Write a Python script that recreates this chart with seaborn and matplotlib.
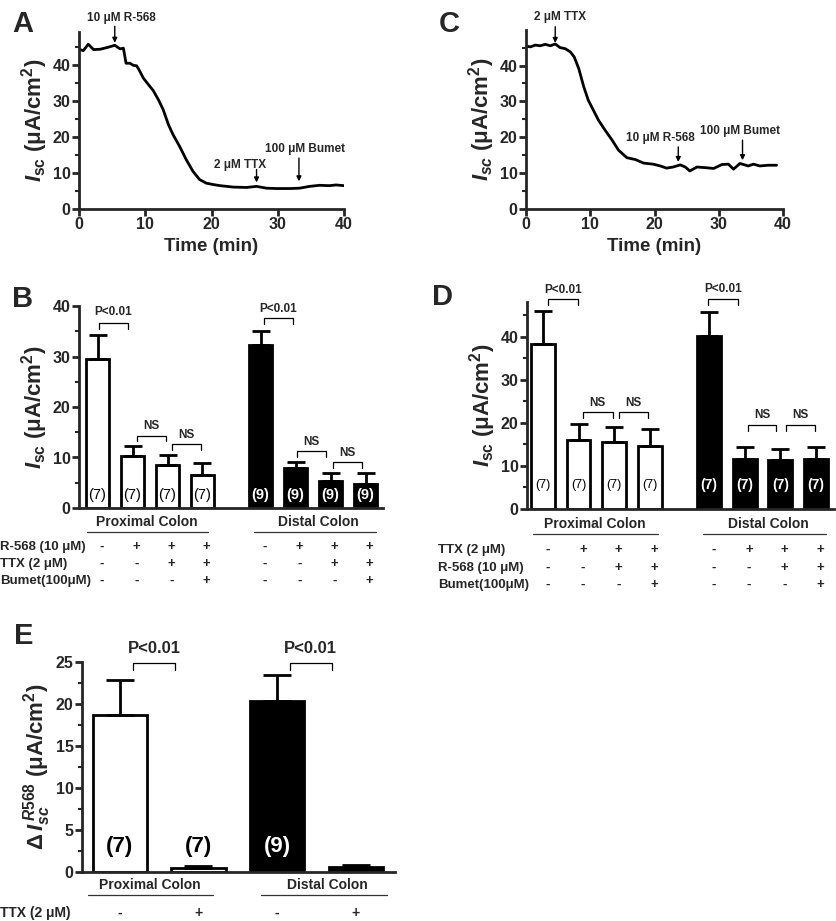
import numpy as np
import pandas as pd
import matplotlib
matplotlib.use("Agg")
import matplotlib.pyplot as plt
import matplotlib.transforms as mtransforms
from matplotlib.ticker import MultipleLocator
import seaborn as sns

sns.set_style("ticks")
plt.rcParams["font.family"] = ["Liberation Sans", "DejaVu Sans"]
plt.rcParams["font.weight"] = "bold"
plt.rcParams["axes.labelweight"] = "bold"
plt.rcParams["mathtext.fontset"] = "custom"
plt.rcParams["mathtext.rm"] = "Liberation Sans:bold"
plt.rcParams["mathtext.it"] = "Liberation Sans:italic:bold"
plt.rcParams["mathtext.bf"] = "Liberation Sans:bold"

# ---- data ----
# A: R-568 first, then TTX, then bumetanide
trace_a_time = [0, 0.65, 1.4, 2.2, 3.2, 4.3, 5.4, 6.2, 6.7, 7.1, 7.7, 8.2, 8.7, 9.2, 9.7,
                10.5, 11.2, 12.0, 12.7, 13.5, 14.2, 15.2, 16.2, 17.2, 18.2, 19.2, 20.3,
                21.3, 23.3, 25.3, 26.8, 28.3, 29.8, 31.8, 33.3, 34.8, 36.3, 37.8, 38.8, 40]
trace_a_isc = [44.5, 44.1, 45.9, 44.4, 44.5, 45.0, 45.6, 44.6, 44.8, 40.6, 40.6, 40.0, 39.9,
               38.3, 36.5, 34.6, 33.0, 30.4, 27.7, 23.5, 20.7, 17.4, 13.7, 10.5, 8.2, 7.2,
               6.8, 6.5, 6.1, 6.0, 6.3, 5.8, 5.7, 5.7, 5.8, 6.3, 6.6, 6.5, 6.7, 6.5]

# C: TTX first, then R-568, then bumetanide
trace_c_time = [0, 0.7, 1.45, 2.2, 3.0, 3.8, 4.55, 5.3, 6.1, 6.9, 7.5, 8.2, 9.0, 9.7, 10.5,
                11.3, 12.3, 13.4, 14.4, 15.7, 17.0, 18.3, 19.8, 20.9, 21.9, 22.9, 24.0,
                24.8, 25.5, 26.6, 28.1, 29.2, 30.5, 31.5, 32.3, 33.3, 34.6, 35.4, 36.4,
                37.7, 39.0]
trace_c_isc = [45.4, 45.2, 45.7, 45.5, 45.9, 45.5, 46.0, 45.0, 44.7, 43.8, 42.4, 39.2, 34.0,
               30.3, 27.5, 24.7, 22.0, 19.2, 16.4, 14.3, 13.8, 12.8, 12.5, 12.0, 11.4, 11.7,
               12.3, 11.7, 10.6, 11.7, 11.5, 11.3, 12.4, 12.5, 11.1, 12.7, 12.0, 12.5, 12.0,
               12.2, 12.2]

colon = ["Proximal"] * 4 + ["Distal"] * 4

b_mean = [29.5, 10.3, 8.6, 6.5, 32.2, 8.0, 5.4, 4.7]
b_err = [4.8, 2.0, 1.8, 2.4, 2.9, 1.2, 1.5, 2.3]
b_n = ["(7)"] * 4 + ["(9)"] * 4
b_rows = ["R-568 (10 μM)", "TTX (2 μM)", "Bumet(100μM)"]
b_signs = [["-", "+", "+", "+", "-", "+", "+", "+"],
           ["-", "-", "+", "+", "-", "-", "+", "+"],
           ["-", "-", "-", "+", "-", "-", "-", "+"]]

d_mean = [38.4, 16.0, 15.6, 14.7, 40.3, 11.7, 11.4, 11.6]
d_err = [7.5, 3.7, 3.5, 3.8, 5.4, 2.7, 2.6, 2.8]
d_n = ["(7)"] * 8
d_rows = ["TTX (2 μM)", "R-568 (10 μM)", "Bumet(100μM)"]
d_signs = [["-", "+", "+", "+", "-", "+", "+", "+"],
           ["-", "-", "+", "+", "-", "-", "+", "+"],
           ["-", "-", "-", "+", "-", "-", "-", "+"]]

e_mean = [18.7, 0.5, 20.4, 0.55]
e_err = [4.2, 0.2, 3.0, 0.25]
e_colon = ["Proximal", "Proximal", "Distal", "Distal"]
e_n = ["(7)", "(7)", "(9)", "(7)"]
e_rows = ["TTX (2 μM)"]
e_signs = [["-", "+", "-", "+"]]

W, H = 836, 921
fig = plt.figure(figsize=(W / 100, H / 100), dpi=100)


def px_axes(l, t, r, b):
    return fig.add_axes([l / W, 1 - b / H, (r - l) / W, (b - t) / H])


def fy(y):
    return 1 - y / H


def style(ax, ymax, major, minor):
    sns.despine(ax=ax)
    for s in ["left", "bottom"]:
        ax.spines[s].set_linewidth(2)
    ax.set_ylim(0, ymax)
    ax.yaxis.set_major_locator(MultipleLocator(major))
    if minor:
        ax.yaxis.set_minor_locator(MultipleLocator(minor))
    ax.tick_params(axis="both", which="major", width=2, length=5, labelsize=11.5, pad=1)
    ax.tick_params(axis="both", which="minor", width=1.5, length=3)


def trace_panel(ax, t, y, ymax):
    sns.lineplot(x=t, y=y, color="black", lw=2, ax=ax)
    style(ax, ymax, 10, 5)
    ax.set_xlim(0, 40)
    ax.xaxis.set_major_locator(MultipleLocator(10))
    ax.set_xlabel("Time (min)", fontsize=13.5, labelpad=4)


def arrow(ax, x, y0, y1):
    ax.annotate("", xy=(x, y1), xytext=(x, y0), annotation_clip=False,
                arrowprops=dict(arrowstyle="-|>", color="black", lw=1, mutation_scale=7,
                                shrinkA=0, shrinkB=0))


def bar_panel(ax, pos, mean, err, groups, width, capsize):
    df = pd.DataFrame({"pos": pos, "val": mean, "colon": groups})
    sns.barplot(data=df, x="pos", y="val", hue="colon", native_scale=True,
                palette={"Proximal": "white", "Distal": "black"}, width=width,
                edgecolor="black", linewidth=2, dodge=False, errorbar=None,
                legend=False, ax=ax)
    ax.errorbar(pos, mean, yerr=[np.zeros(len(mean)), err], fmt="none", ecolor="black",
                elinewidth=2, capsize=capsize, capthick=2, zorder=1)
    ax.tick_params(axis="x", which="both", bottom=False, labelbottom=False)
    ax.set_xlabel("")


def n_labels(ax, pos, labels, groups, y, fs, fs_white, weight="normal"):
    for p, lab, g in zip(pos, labels, groups):
        if g == "Distal":
            ax.text(p, y, lab, ha="center", va="center", color="white",
                    fontsize=fs_white, fontweight="bold")
        else:
            ax.text(p, y, lab, ha="center", va="center", color="black",
                    fontsize=fs, fontweight=weight)


def bracket(ax, x0, x1, y, h, text, ty, fs, lw=0.9):
    ax.plot([x0, x0, x1, x1], [y - h, y, y, y - h], color="black", lw=lw, clip_on=False)
    ax.text((x0 + x1) / 2, ty, text, ha="center", va="center", fontsize=fs, clip_on=False)


def groups_below(ax, spans, text_y, line_y, fs):
    trans = mtransforms.blended_transform_factory(ax.transData, fig.transFigure)
    for name, x0, x1, xc in spans:
        ax.text(xc, fy(text_y), name, transform=trans, ha="center", va="center", fontsize=fs)
        ax.plot([x0, x1], [fy(line_y)] * 2, transform=trans, clip_on=False,
                color="#333333", lw=0.9)


def cond_rows(ax, labels, signs, pos, label_x, row_y, dx, fs):
    trans = mtransforms.blended_transform_factory(ax.transData, fig.transFigure)
    for lab, sg, y in zip(labels, signs, row_y):
        fig.text(label_x / W, fy(y), lab, ha="left", va="center", fontsize=fs)
        for p, s in zip(pos, sg):
            ax.text(p + dx, fy(y), s, transform=trans, ha="center", va="center", fontsize=fs)


ylab = r"$I_{\mathrm{sc}}$ (μA/cm$^{2}$)"
ylab_it = r"$I_{sc}$ (μA/cm$^{2}$)"
YL = 16

# ---- A ----
axA = px_axes(79, 32, 344, 209)
trace_panel(axA, trace_a_time, trace_a_isc, 49.3)
axA.set_ylabel(ylab, fontsize=YL, labelpad=2)
axA.text(6.4, 53.2, "10 μM R-568", ha="center", va="center", fontsize=8.5, clip_on=False)
arrow(axA, 5.4, 50.9, 46.3)
axA.text(24.3, 12.3, "2 μM TTX", ha="center", va="center", fontsize=8.5)
arrow(axA, 26.8, 11.0, 7.4)
axA.text(34.1, 16.8, "100 μM Bumet", ha="center", va="center", fontsize=8.5)
arrow(axA, 33.2, 14.2, 7.7)

# ---- C ----
axC = px_axes(526, 30, 783, 209)
trace_panel(axC, trace_c_time, trace_c_isc, 49.9)
axC.set_ylabel(ylab_it, fontsize=YL, labelpad=2)
axC.text(5.3, 53.6, "2 μM TTX", ha="center", va="center", fontsize=8.5, clip_on=False)
arrow(axC, 4.55, 50.8, 46.3)
axC.text(20.9, 19.8, "10 μM R-568", ha="center", va="center", fontsize=8.5)
arrow(axC, 23.7, 17.3, 13.1)
axC.text(33.3, 21.7, "100 μM Bumet", ha="center", va="center", fontsize=8.5)
arrow(axC, 33.7, 19.2, 13.6)

# ---- B ----
pos8 = [0, 1, 2, 3, 4.66, 5.66, 6.66, 7.66]
axB = px_axes(79, 306, 383, 508)
bar_panel(axB, pos8, b_mean, b_err, colon, 0.66, 6.5)
style(axB, 40, 10, 5)
axB.set_xlim(-0.53, 8.16)
axB.set_ylabel(ylab, fontsize=YL, labelpad=2)
n_labels(axB, pos8, b_n, colon, 2.6, 10.5, 10.5)
bracket(axB, 0.04, 0.87, 36.6, 1.1, "P<0.01", 38.9, 8.5)
bracket(axB, 1.12, 1.95, 14.3, 1.1, "NS", 16.2, 8.5)
bracket(axB, 2.12, 2.95, 12.6, 1.1, "NS", 14.5, 8.5)
bracket(axB, 4.76, 5.59, 37.6, 1.1, "P<0.01", 39.4, 8.5)
bracket(axB, 5.70, 6.53, 11.25, 1.1, "NS", 13.1, 8.5)
bracket(axB, 6.73, 7.56, 9.1, 1.1, "NS", 10.9, 8.5)
groups_below(axB, [("Proximal Colon", -0.3, 3.16, 1.41), ("Distal Colon", 4.47, 7.96, 6.3)],
             522, 532, 10)
cond_rows(axB, b_rows, b_signs, pos8, 0, [547, 564, 581], 0.12, 9.5)

# ---- D ----
pos8d = [0, 1, 2, 3, 4.67, 5.67, 6.67, 7.67]
axD = px_axes(527, 302, 834, 509)
bar_panel(axD, pos8d, d_mean, d_err, colon, 0.67, 6.5)
style(axD, 48.1, 10, 5)
axD.set_xlim(-0.45, 8.18)
axD.set_ylabel(ylab, fontsize=YL, labelpad=2)
n_labels(axD, pos8d, d_n, colon, 5.6, 9, 10)
bracket(axD, 0.14, 0.98, 48.7, 1.4, "P<0.01", 51.0, 8.5)
bracket(axD, 1.12, 1.96, 22.5, 1.4, "NS", 24.7, 8.5)
bracket(axD, 2.13, 2.94, 22.5, 1.4, "NS", 24.7, 8.5)
bracket(axD, 4.65, 5.49, 48.7, 1.4, "P<0.01", 51.2, 8.5)
bracket(axD, 5.77, 6.55, 19.5, 1.4, "NS", 21.8, 8.5)
bracket(axD, 6.83, 7.65, 19.5, 1.4, "NS", 21.8, 8.5)
groups_below(axD, [("Proximal Colon", -0.28, 3.22, 1.46), ("Distal Colon", 4.5, 7.95, 6.33)],
             524, 534, 10)
cond_rows(axD, d_rows, d_signs, pos8d, 438, [550, 568, 585], 0.12, 9.5)

# ---- E ----
pos4 = [0, 1, 2, 3]
axE = px_axes(82, 662, 395, 872)
bar_panel(axE, pos4, e_mean, e_err, e_colon, 0.69, 10)
style(axE, 25, 5, 2.5)
axE.set_xlim(-0.48, 3.5)
axE.set_ylabel(r"$\Delta\,I_{sc}^{\,R568}$ (μA/cm$^{2}$)", fontsize=YL, labelpad=2)
n_labels(axE, pos4, e_n, e_colon, 3.0, 16, 16, weight="bold")
bracket(axE, 0.17, 0.70, 24.9, 0.9, "P<0.01", 26.6, 12)
bracket(axE, 2.16, 2.70, 24.9, 0.9, "P<0.01", 26.6, 12)
groups_below(axE, [("Proximal Colon", -0.4, 1.19, 0.38), ("Distal Colon", 1.8, 3.4, 2.64)],
             885, 895, 10)
cond_rows(axE, e_rows, e_signs, pos4, 0, [913], 0.0, 10)

# panel letters
for lab, x, y in [("A", 12, 10), ("C", 439, 10), ("B", 12, 285), ("D", 432, 283), ("E", 14, 622)]:
    fig.text(x / W, fy(y), lab, fontsize=21, fontweight="bold", ha="left", va="top")

fig.savefig("out.png", dpi=100)
